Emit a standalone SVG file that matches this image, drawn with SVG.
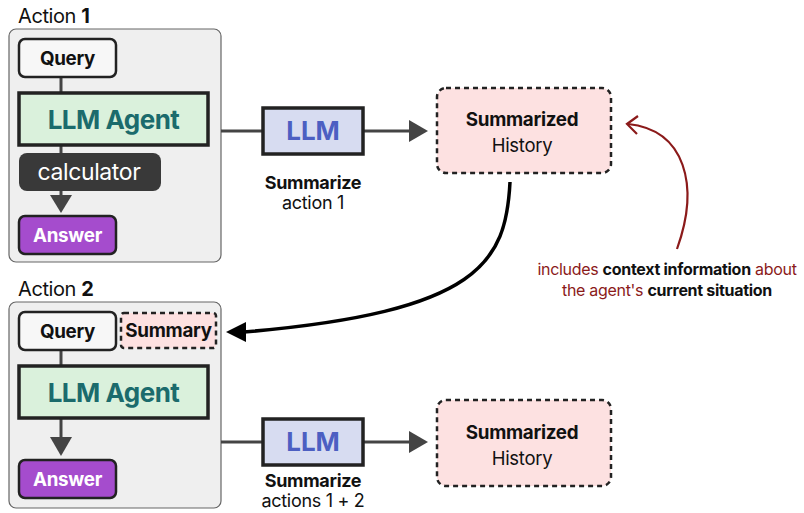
<svg xmlns="http://www.w3.org/2000/svg" width="804" height="513" viewBox="0 0 804 513">
  <defs>
    <style>
      text { font-family: Inter, "Liberation Sans", sans-serif; }
      .panel { fill: #efefef; stroke: #666; stroke-width: 1.2; }
      .title { font-size: 20px; fill: #111; letter-spacing: -0.4px; }
      .query { fill: #f7f7f7; stroke: #222; stroke-width: 2.5; }
      .agent { fill: #daf1dc; stroke: #222; stroke-width: 3.5; }
      .answer { fill: #a54ccd; stroke: #222; stroke-width: 2.5; }
      .llm { fill: #d7dcf1; stroke: #222; stroke-width: 3.5; }
      .hist { fill: #fde1e1; stroke: #222; stroke-width: 2.5; stroke-dasharray: 5 4; }
      .lbl { font-size: 18.8px; font-weight: 700; fill: #111; text-anchor: middle; letter-spacing: -0.3px; }
      .cap { font-size: 18px; font-weight: 700; fill: #111; text-anchor: middle; letter-spacing: -0.3px; }
      .agentTxt { font-size: 26px; font-weight: 700; fill: #1b6b6c; text-anchor: middle; letter-spacing: -0.5px; }
      .llmTxt { font-size: 26px; font-weight: 700; fill: #4c5fc2; text-anchor: middle; }
      .white { fill: #fff; }
      .reg { font-size: 18.5px; font-weight: 400; fill: #111; text-anchor: middle; letter-spacing: -0.3px; }
      .sub { font-size: 18px; font-weight: 400; fill: #111; text-anchor: middle; letter-spacing: -0.3px; }
      .flow { stroke: #444; stroke-width: 3; fill: none; }
      .note { font-size: 16px; fill: #8b1a1a; text-anchor: middle; letter-spacing: -0.3px; }
      .note tspan.b { font-weight: 700; fill: #111; }
    </style>
  </defs>

  <!-- action panels -->
  <text class="title" x="18" y="23">Action <tspan font-weight="700">1</tspan></text>
  <rect class="panel" x="9" y="29" width="212" height="233" rx="7"/>
  <text class="title" x="18" y="296">Action <tspan font-weight="700">2</tspan></text>
  <rect class="panel" x="9" y="302" width="212" height="206" rx="7"/>

  <g id="connectors">
    <line class="flow" x1="61" y1="77" x2="61" y2="93"/>
    <line class="flow" x1="61" y1="145" x2="61" y2="154"/>
    <line class="flow" x1="61" y1="190" x2="61" y2="198"/>
    <path d="M50,195 L72,195 L61,213 Z" fill="#444"/>
    <line class="flow" x1="221" y1="131" x2="263" y2="131"/>
    <line class="flow" x1="363" y1="131" x2="410" y2="131"/>
    <path d="M409,120 L428,131 L409,142 Z" fill="#444"/>

    <line class="flow" x1="61" y1="350" x2="61" y2="366"/>
    <line class="flow" x1="61" y1="418" x2="61" y2="440"/>
    <path d="M50,437 L72,437 L61,456 Z" fill="#444"/>
    <line class="flow" x1="221" y1="442" x2="263" y2="442"/>
    <line class="flow" x1="363" y1="442" x2="410" y2="442"/>
    <path d="M409,431 L428,442 L409,453 Z" fill="#444"/>

    <!-- history fed back into the next action -->
    <path d="M510,182 C506,262 480,312 244,332" stroke="#000" stroke-width="3.5" fill="none"/>
    <path d="M226,332 L246,322 L246,342 Z" fill="#000"/>

    <!-- annotation arrow -->
    <path d="M677,249 C700,185 685,130 628,124" stroke="#8b1a1a" stroke-width="2.2" fill="none"/>
    <path d="M638,116 L627,124 L637,134" stroke="#8b1a1a" stroke-width="2.2" fill="none"/>
  </g>

  <g id="query1">
    <rect class="query" x="19" y="39" width="97" height="38" rx="6"/>
    <text class="lbl" x="67.5" y="65">Query</text>
  </g>
  <g id="agent1">
    <rect class="agent" x="19" y="93" width="189" height="52"/>
    <text class="agentTxt" x="113.5" y="129">LLM Agent</text>
  </g>
  <g id="calculator">
    <rect x="19" y="153" width="142" height="38" rx="8" fill="#393939"/>
    <text x="89" y="180" font-size="23" fill="#fff" text-anchor="middle" letter-spacing="-0.4">calculator</text>
  </g>
  <g id="answer1">
    <rect class="answer" x="19" y="216" width="97" height="38" rx="6"/>
    <text class="lbl white" x="67.5" y="242">Answer</text>
  </g>

  <g id="llm1">
    <rect class="llm" x="263" y="108" width="100" height="46"/>
    <text class="llmTxt" x="313" y="140">LLM</text>
    <text class="cap" x="313" y="189">Summarize</text>
    <text class="sub" x="313" y="209">action 1</text>
  </g>
  <g id="history1">
    <rect class="hist" x="437" y="88" width="174" height="85" rx="9"/>
    <text class="lbl" x="522" y="126">Summarized</text>
    <text class="reg" x="522" y="152">History</text>
  </g>

  <g id="note">
    <text class="note" x="667" y="275">includes <tspan class="b">context information</tspan> about</text>
    <text class="note" x="667" y="296">the agent's <tspan class="b">current situation</tspan></text>
  </g>

  <g id="query2">
    <rect class="query" x="19" y="312" width="97" height="38" rx="6"/>
    <text class="lbl" x="67.5" y="338">Query</text>
  </g>
  <g id="summary">
    <rect class="hist" x="121" y="313" width="95" height="35" rx="3"/>
    <text class="lbl" x="168.5" y="337">Summary</text>
  </g>
  <g id="agent2">
    <rect class="agent" x="19" y="366" width="189" height="52"/>
    <text class="agentTxt" x="113.5" y="402">LLM Agent</text>
  </g>
  <g id="answer2">
    <rect class="answer" x="19" y="460" width="97" height="38" rx="6"/>
    <text class="lbl white" x="67.5" y="486">Answer</text>
  </g>

  <g id="llm2">
    <rect class="llm" x="263" y="419" width="100" height="46"/>
    <text class="llmTxt" x="313" y="451">LLM</text>
    <text class="cap" x="313" y="487">Summarize</text>
    <text class="sub" x="313" y="507">actions 1 + 2</text>
  </g>
  <g id="history2">
    <rect class="hist" x="437" y="400" width="174" height="86" rx="9"/>
    <text class="lbl" x="522" y="439">Summarized</text>
    <text class="reg" x="522" y="465">History</text>
  </g>
</svg>
